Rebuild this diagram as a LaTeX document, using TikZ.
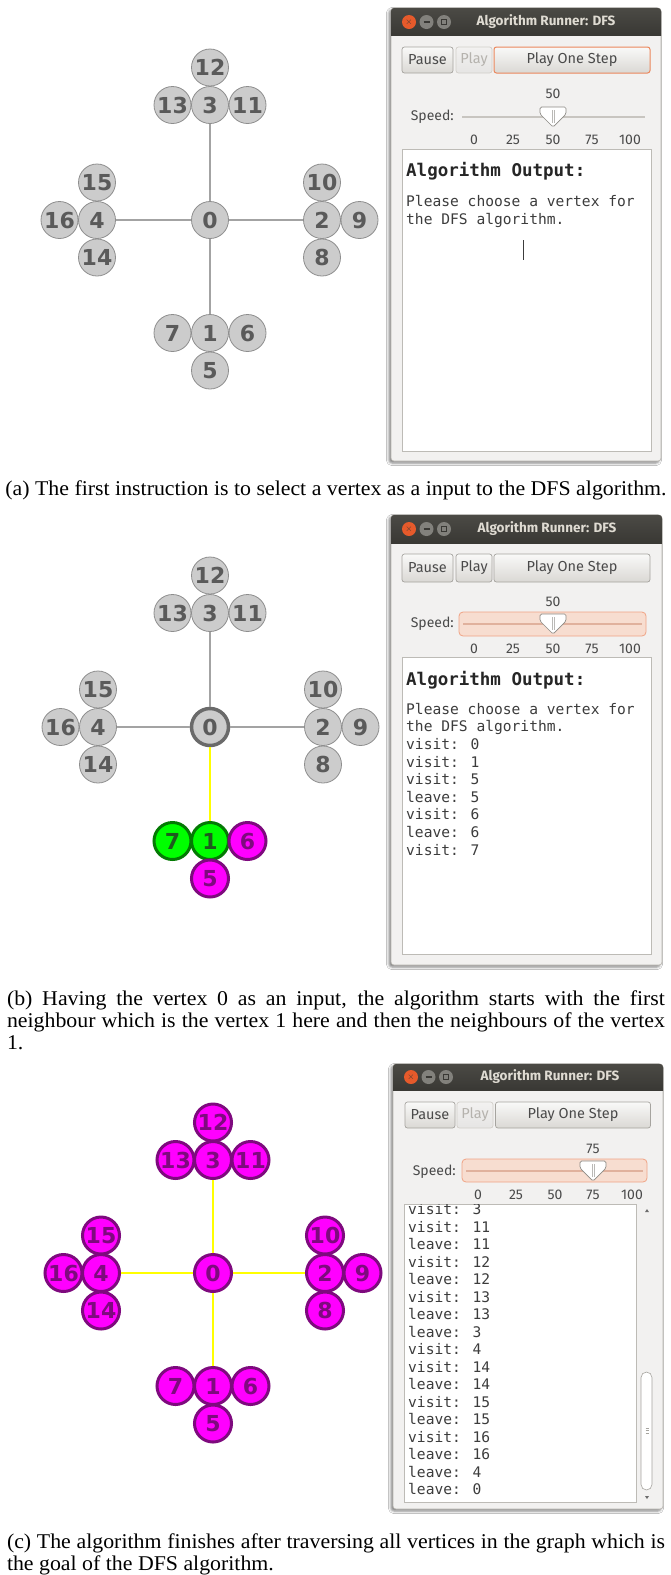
\documentclass[tikz,border=0pt]{standalone}
\usepackage{fontspec}
\setmainfont{Liberation Serif}[FakeStretch=1.04]
\newfontfamily\uifont{Fira Sans}
\newfontfamily\outfont{DejaVu Sans Mono}
\newfontfamily\vertfont{DejaVu Sans}
\usetikzlibrary{shadows.blur}

\definecolor{vgray}{HTML}{CCCCCC}
\definecolor{vline}{HTML}{8E8E8E}
\definecolor{vtext}{HTML}{5A5A5A}
\definecolor{vmark}{HTML}{6A6A6A}
\definecolor{vgreen}{HTML}{00FF00}
\definecolor{vgreenline}{HTML}{047A04}
\definecolor{vgreentext}{HTML}{1E5A1E}
\definecolor{vpink}{HTML}{FF00FF}
\definecolor{vpurple}{HTML}{7E0A7E}
\definecolor{edgegray}{HTML}{A3A3A3}
\definecolor{edgeyellow}{HTML}{FFFF00}
\definecolor{winbg}{HTML}{F2F1F0}
\definecolor{winline}{HTML}{B9B6B0}
\definecolor{bartop}{HTML}{4B4A45}
\definecolor{barbottom}{HTML}{393834}
\definecolor{bartext}{HTML}{DFDBD2}
\definecolor{closered}{HTML}{E65A2B}
\definecolor{wingray}{HTML}{82817C}
\definecolor{btntop}{HTML}{F9F9F8}
\definecolor{btnbottom}{HTML}{DAD8D4}
\definecolor{btnline}{HTML}{A6A49F}
\definecolor{focus}{HTML}{EB875C}
\definecolor{offtext}{HTML}{B5B2AD}
\definecolor{offline}{HTML}{D2CFCA}
\definecolor{uitext}{HTML}{4A4A4A}
\definecolor{hilite}{HTML}{F7DDD0}
\definecolor{hiliteline}{HTML}{F0A485}
\definecolor{trackgray}{HTML}{C8C5C0}
\definecolor{thumbline}{HTML}{8C8A85}
\definecolor{areaborder}{HTML}{BDBBB6}
\definecolor{outtext}{HTML}{3C3C3C}

\begin{document}
\begin{tikzpicture}[x=1pt,y=1pt,node distance=37.5pt,
	vertex/.style={circle,minimum size=37pt,inner sep=0pt,font=\vertfont\bfseries\fontsize{22}{22}\selectfont},
	idle/.style={vertex,fill=vgray,draw=vline,line width=0.8pt,text=vtext},
	current/.style={idle,draw=vmark,line width=3.5pt},
	open/.style={vertex,fill=vgreen,draw=vgreenline,line width=3pt,text=vgreentext},
	done/.style={vertex,fill=vpink,draw=vpurple,line width=3pt,text=vpurple},
	gray edge/.style={draw=edgegray,line width=1.5pt},
	tree edge/.style={draw=edgeyellow,line width=2.2pt},
	window/.style={fill=winbg,draw=winline,line width=0.6pt,rounded corners=3pt,blur shadow={shadow xshift=-2pt,shadow yshift=-2pt,shadow blur radius=2.5pt,shadow opacity=50}},
	titlebar/.style={top color=bartop,bottom color=barbottom},
	wintitle/.style={text=bartext,inner sep=0pt,font=\uifont\bfseries\fontsize{13.5}{14}\selectfont},
	winbtn/.style={circle,minimum size=14pt,inner sep=0pt,font=\fontsize{9}{9}\selectfont},
	button/.style={rounded corners=2.5pt,top color=btntop,bottom color=btnbottom,draw=btnline,line width=0.7pt,minimum height=26pt,inner sep=0pt,text=uitext,font=\uifont\fontsize{14.5}{15}\selectfont},
	off button/.style={button,top color=winbg,bottom color=winbg!95!black,draw=offline,text=offtext},
	focused/.style={draw=focus,line width=1pt},
	uilabel/.style={text=uitext,inner sep=0pt,font=\uifont\fontsize{14}{15}\selectfont},
	track/.style={draw=trackgray,line width=2pt},
	slider box/.style={fill=hilite,draw=hiliteline,line width=0.8pt,rounded corners=4pt},
	textarea/.style={fill=white,draw=areaborder,line width=0.7pt},
	outhead/.style={anchor=mid west,inner sep=0pt,text=black!85,font=\outfont\bfseries\fontsize{17.5}{18}\selectfont},
	outrow/.style={anchor=mid west,inner sep=0pt,text=outtext,font=\outfont\fontsize{14.6}{15}\selectfont},
	caption/.style={inner sep=0pt,font=\fontsize{21}{22}\selectfont},
	thumb/.pic={
		\filldraw[fill=white,draw=thumbline,line width=0.7pt,rounded corners=1.5pt] (-13,10) -- (13,10) -- (13,3) -- (0,-10) -- (-13,3) -- cycle;
		\draw[thumbline!60,line width=0.5pt] (-1.2,7) -- (-1.2,-6) (1.2,7) -- (1.2,-6);
	}]

	\useasboundingbox (0,0) rectangle (670,-1575);
	\fill[white] (0,0) rectangle (670,-1575);

	% graph before a start vertex is picked
	\node[idle] (a0) at (210,-220) {0};
	\node[idle] (a1) [below of = a0, node distance=113pt] {1};
	\node[idle] (a2) [right of = a0, node distance=112pt] {2};
	\node[idle] (a3) [above of = a0, node distance=115pt] {3};
	\node[idle] (a4) [left of = a0, node distance=113pt] {4};
	\node[idle] (a5) [below of = a1] {5};
	\node[idle] (a6) [right of = a1] {6};
	\node[idle] (a7) [left of = a1] {7};
	\node[idle] (a8) [below of = a2] {8};
	\node[idle] (a9) [right of = a2] {9};
	\node[idle] (a10) [above of = a2] {10};
	\node[idle] (a11) [right of = a3] {11};
	\node[idle] (a12) [above of = a3] {12};
	\node[idle] (a13) [left of = a3] {13};
	\node[idle] (a14) [below of = a4] {14};
	\node[idle] (a15) [above of = a4] {15};
	\node[idle] (a16) [left of = a4] {16};
	\path[gray edge] (a0) edge (a1) edge (a2) edge (a3) edge (a4);

	\begin{scope}[shift={(391,-8)}]
		\path[window] (0,0) rectangle (270,-453);
		\begin{scope}
			\clip[rounded corners=3pt] (0,0) rectangle (270,-453);
			\shade[titlebar] (0,0) rectangle (270,-27);
		\end{scope}
		\node[winbtn,fill=closered,text=barbottom] (a-close) at (18,-14) {$\times$};
		\node[winbtn,fill=wingray,text=barbottom] (a-min) at (35.5,-14) {\rule{6pt}{1.2pt}};
		\node[winbtn,fill=wingray] (a-max) at (53,-14) {};
		\draw[barbottom,line width=0.8pt] ([shift={(-2.5,-2.5)}]a-max.center) rectangle ([shift={(2.5,2.5)}]a-max.center);
		\node[wintitle] (a-title) at (155,-14) {Algorithm Runner: DFS};
		\node[button,minimum width=51pt] (a-pause) at (36.5,-52) {Pause};
		\node[off button,minimum width=36pt] (a-play) at (83,-52) {Play};
		\node[button,focused,minimum width=156pt] (a-step) at (181,-52) {Play One Step};
		\node[uilabel] (a-value) at (162,-86) {50};
		\node[uilabel,anchor=east] (a-speed) at (63,-109) {Speed:};
		\draw[track] (71,-109) -- (254,-109);
		\pic at (162,-109) {thumb};
		\foreach \v/\x in {0/83,25/122,50/162,75/201,100/239}
			\node[uilabel] (a-tick\v) at (\x,-132) {\v};
		\path[textarea] (11,-141) rectangle (260,-443);
		\node[outhead] (a-head) at (15,-166) {Algorithm Output:};
		\node[outrow] (a-row1) at (15,-196) {Please choose a vertex for};
		\node[outrow] (a-row2) at (15,-214) {the DFS algorithm.};
		\draw[outtext,line width=0.8pt] (132,-232) -- (132,-252);
	\end{scope}

	\node[caption] (cap-a) at (336,-490) {(a) The first instruction is to select a vertex as a input to the DFS algorithm.};

	% graph after visiting 0, 1, 5, 6 and 7
	\node[current] (b0) at (210,-727) {0};
	\node[open] (b1) [below of = b0, node distance=114pt] {1};
	\node[idle] (b2) [right of = b0, node distance=113pt] {2};
	\node[idle] (b3) [above of = b0, node distance=114pt] {3};
	\node[idle] (b4) [left of = b0, node distance=112pt] {4};
	\node[done] (b5) [below of = b1] {5};
	\node[done] (b6) [right of = b1] {6};
	\node[open] (b7) [left of = b1] {7};
	\node[idle] (b8) [below of = b2] {8};
	\node[idle] (b9) [right of = b2] {9};
	\node[idle] (b10) [above of = b2] {10};
	\node[idle] (b11) [right of = b3] {11};
	\node[idle] (b12) [above of = b3] {12};
	\node[idle] (b13) [left of = b3] {13};
	\node[idle] (b14) [below of = b4] {14};
	\node[idle] (b15) [above of = b4] {15};
	\node[idle] (b16) [left of = b4] {16};
	\path[gray edge] (b0) edge (b2) edge (b3) edge (b4);
	\path[tree edge] (b0) edge (b1);

	\begin{scope}[shift={(391,-515)}]
		\path[window] (0,0) rectangle (271,-450);
		\begin{scope}
			\clip[rounded corners=3pt] (0,0) rectangle (271,-450);
			\shade[titlebar] (0,0) rectangle (271,-28);
		\end{scope}
		\node[winbtn,fill=closered,text=barbottom] (b-close) at (18,-14) {$\times$};
		\node[winbtn,fill=wingray,text=barbottom] (b-min) at (35.5,-14) {\rule{6pt}{1.2pt}};
		\node[winbtn,fill=wingray] (b-max) at (53,-14) {};
		\draw[barbottom,line width=0.8pt] ([shift={(-2.5,-2.5)}]b-max.center) rectangle ([shift={(2.5,2.5)}]b-max.center);
		\node[wintitle] (b-title) at (156,-14) {Algorithm Runner: DFS};
		\node[button,minimum width=51pt,minimum height=28pt] (b-pause) at (36.5,-53) {Pause};
		\node[button,minimum width=36pt,minimum height=28pt] (b-play) at (83,-53) {Play};
		\node[button,minimum width=156pt,minimum height=28pt] (b-step) at (181,-53) {Play One Step};
		\node[uilabel] (b-value) at (162,-87) {50};
		\node[uilabel,anchor=east] (b-speed) at (63,-109) {Speed:};
		\path[slider box] (68,-97) rectangle (255,-121);
		\draw[track,draw=hiliteline!60!trackgray] (72,-109) -- (251,-109);
		\pic at (162,-109) {thumb};
		\foreach \v/\x in {0/83,25/122,50/162,75/201,100/239}
			\node[uilabel] (b-tick\v) at (\x,-134) {\v};
		\path[textarea] (11,-142) rectangle (260,-439);
		\node[outhead] (b-head) at (15,-168) {Algorithm Output:};
		\foreach \t [count=\i] in {Please choose a vertex for,the DFS algorithm.,visit: 0,visit: 1,visit: 5,leave: 5,visit: 6,leave: 6,visit: 7}
			\node[outrow] (b-row\i) at (15,{-197-17.6*(\i-1)}) {\t};
	\end{scope}

	\node[caption,text width=658pt,align=justify,anchor=north] (cap-b) at (336,-990) {\noindent(b) Having the vertex 0 as an input, the algorithm starts with the first\linebreak neighbour which is the vertex 1 here and then the neighbours of the vertex\linebreak 1.};

	% graph once every vertex is left
	\node[done] (c0) at (213,-1273) {0};
	\node[done] (c1) [below of = c0, node distance=113pt] {1};
	\node[done] (c2) [right of = c0, node distance=112pt] {2};
	\node[done] (c3) [above of = c0, node distance=113pt] {3};
	\node[done] (c4) [left of = c0, node distance=112pt] {4};
	\node[done] (c5) [below of = c1] {5};
	\node[done] (c6) [right of = c1] {6};
	\node[done] (c7) [left of = c1] {7};
	\node[done] (c8) [below of = c2] {8};
	\node[done] (c9) [right of = c2] {9};
	\node[done] (c10) [above of = c2] {10};
	\node[done] (c11) [right of = c3] {11};
	\node[done] (c12) [above of = c3] {12};
	\node[done] (c13) [left of = c3] {13};
	\node[done] (c14) [below of = c4] {14};
	\node[done] (c15) [above of = c4] {15};
	\node[done] (c16) [left of = c4] {16};
	\path[tree edge] (c0) edge (c1) edge (c2) edge (c3) edge (c4);

	\begin{scope}[shift={(393,-1064)}]
		\path[window] (0,0) rectangle (270,-445);
		\begin{scope}
			\clip[rounded corners=3pt] (0,0) rectangle (270,-445);
			\shade[titlebar] (0,0) rectangle (270,-26);
		\end{scope}
		\node[winbtn,fill=closered,text=barbottom] (c-close) at (18,-13) {$\times$};
		\node[winbtn,fill=wingray,text=barbottom] (c-min) at (35.5,-13) {\rule{6pt}{1.2pt}};
		\node[winbtn,fill=wingray] (c-max) at (53,-13) {};
		\draw[barbottom,line width=0.8pt] ([shift={(-2.5,-2.5)}]c-max.center) rectangle ([shift={(2.5,2.5)}]c-max.center);
		\node[wintitle] (c-title) at (157,-13) {Algorithm Runner: DFS};
		\node[button,minimum width=50pt] (c-pause) at (37,-51) {Pause};
		\node[off button,minimum width=36pt] (c-play) at (82,-51) {Play};
		\node[button,minimum width=155pt] (c-step) at (180,-51) {Play One Step};
		\node[uilabel] (c-value) at (200,-85) {75};
		\node[uilabel,anchor=east] (c-speed) at (63,-108) {Speed:};
		\path[slider box] (69,-95) rectangle (254,-118);
		\draw[track,draw=hiliteline!60!trackgray] (73,-106.5) -- (250,-106.5);
		\pic at (200,-107) {thumb};
		\foreach \v/\x in {0/85,25/123,50/162,75/200,100/239}
			\node[uilabel] (c-tick\v) at (\x,-131) {\v};
		\path[textarea] (11,-140) rectangle (243,-438);
		\begin{scope}
			\clip (11,-140.5) rectangle (243,-438);
			\foreach \t [count=\i] in {visit: 3,visit: 11,leave: 11,visit: 12,leave: 12,visit: 13,leave: 13,leave: 3,visit: 4,visit: 14,leave: 14,visit: 15,leave: 15,visit: 16,leave: 16,leave: 4,leave: 0}
				\node[outrow] (c-row\i) at (15,{-148.5-17.5*(\i-1)}) {\t};
		\end{scope}
		\fill[uitext!80] (252,-148) -- (256,-148) -- (254,-145) -- cycle;
		\fill[uitext!80] (252,-432) -- (256,-432) -- (254,-435) -- cycle;
		\path[fill=white,draw=btnline,line width=0.6pt,rounded corners=5.5pt] (248,-308) rectangle (259,-426);
		\draw[btnline,line width=0.4pt] (252.5,-364) -- (255.5,-364) (252.5,-366.5) -- (255.5,-366.5) (252.5,-369) -- (255.5,-369);
	\end{scope}

	\node[caption,text width=658pt,align=justify,anchor=north] (cap-c) at (336,-1533) {\noindent(c) The algorithm finishes after traversing all vertices in the graph which is\linebreak the goal of the DFS algorithm.};
\end{tikzpicture}
\end{document}
